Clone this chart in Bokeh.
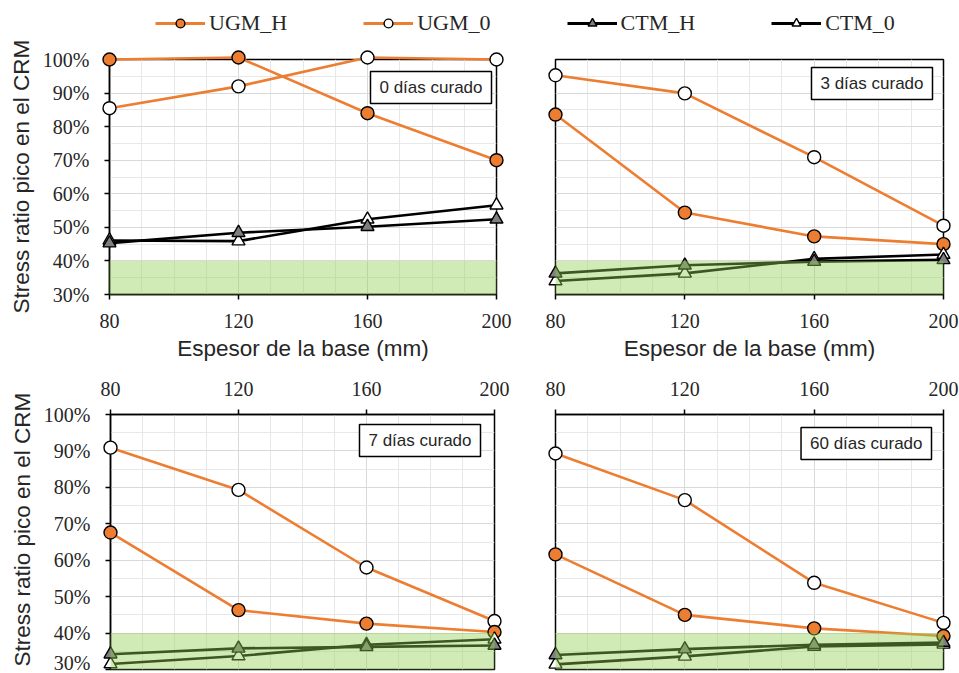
from bokeh.plotting import figure
from bokeh.models import (ColumnDataSource, FixedTicker, PrintfTickFormatter, Label,
                          Legend, LegendItem, Range1d, Title)
from bokeh.layouts import column, row
from bokeh.embed import file_html
from bokeh.resources import INLINE

# ---------------- data ----------------
thickness = [80, 120, 160, 200]          # Espesor de la base (mm)
x_ticks = [80, 120, 160, 200]
x_minor = [90, 100, 110, 130, 140, 150, 170, 180, 190]
y_ticks = [30, 40, 50, 60, 70, 80, 90, 100]
y_minor = [35, 45, 55, 65, 75, 85, 95]
band_bottom = 30
band_top = 40

panel_titles = ["0 días curado", "3 días curado", "7 días curado", "60 días curado"]
series_names = ["UGM_H", "UGM_0", "CTM_H", "CTM_0"]
y_label = "Stress ratio pico en el CRM"
x_label = "Espesor de la base (mm)"

ugm_h_0d = [100.0, 100.6, 84.0, 70.0]
ugm_0_0d = [85.5, 92.0, 100.6, 100.0]
ctm_h_0d = [45.3, 48.4, 50.2, 52.4]
ctm_0_0d = [46.1, 45.9, 52.4, 56.6]

ugm_h_3d = [83.6, 54.4, 47.3, 45.0]
ugm_0_3d = [95.3, 89.9, 70.9, 50.5]
ctm_h_3d = [36.3, 38.7, 39.8, 40.3]
ctm_0_3d = [34.0, 36.3, 40.6, 41.9]

ugm_h_7d = [67.6, 46.3, 42.6, 40.3]
ugm_0_7d = [90.9, 79.3, 58.0, 43.3]
ctm_h_7d = [34.2, 35.8, 36.2, 36.6]
ctm_0_7d = [31.5, 33.7, 36.8, 38.3]

ugm_h_60d = [61.6, 45.0, 41.3, 39.2]
ugm_0_60d = [89.3, 76.5, 53.8, 42.8]
ctm_h_60d = [34.0, 35.6, 36.8, 37.4]
ctm_0_60d = [31.4, 33.6, 36.3, 36.9]

ORANGE = "#ED7D31"
GRAY = "#7F7F7F"
GREEN = "#92D050"
TXT = "#262626"
SERIF = "Liberation Serif"
SANS = "Liberation Sans"

styles = {
    "UGM_H": dict(line=ORANGE, marker="circle", fill=ORANGE, size=13),
    "UGM_0": dict(line=ORANGE, marker="circle", fill="white", size=13),
    "CTM_H": dict(line="black", marker="triangle", fill=GRAY, size=13),
    "CTM_0": dict(line="black", marker="triangle", fill="white", size=13),
}


def make_panel(width, height, borders, title, data, box_off, xaxis_loc, ylab_offset, show_xlabel):
    left, right, top, bottom = borders
    p = figure(width=width, height=height, output_backend="svg", toolbar_location=None,
               x_range=Range1d(80, 200), y_range=Range1d(30, 100),
               x_axis_location=xaxis_loc,
               min_border_left=left, min_border_right=right,
               min_border_top=top, min_border_bottom=bottom)
    p.background_fill_color = "white"
    p.border_fill_color = "white"
    p.outline_line_color = "black"
    p.outline_line_width = 1.5

    xt = FixedTicker(ticks=x_ticks, minor_ticks=x_minor)
    yt = FixedTicker(ticks=y_ticks, minor_ticks=y_minor)
    p.xaxis.ticker = xt
    p.yaxis.ticker = yt
    p.xgrid.ticker = xt
    p.ygrid.ticker = yt
    for g in (p.xgrid, p.ygrid):
        g.grid_line_color = "#D9D9D9"
        g.grid_line_width = 1
        g.minor_grid_line_color = "#E8E8E8"
        g.minor_grid_line_width = 1

    for ax in (p.xaxis, p.yaxis):
        ax.axis_line_color = "black"
        ax.axis_line_width = 1.5
        ax.major_tick_line_color = "black"
        ax.major_tick_line_width = 1.5
        ax.major_tick_out = 5
        ax.major_tick_in = 0
        ax.minor_tick_line_color = None
        ax.major_label_text_font = SERIF
        ax.major_label_text_font_size = "20px"
        ax.major_label_text_color = TXT
        ax.axis_label_text_font = SANS
        ax.axis_label_text_font_size = "22.5px"
        ax.axis_label_text_font_style = "normal"
        ax.axis_label_text_color = TXT

    p.xaxis.major_label_standoff = 14
    p.yaxis.formatter = PrintfTickFormatter(format="%d%%")
    p.yaxis.major_label_standoff = 15
    if ylab_offset is None:
        p.yaxis.visible = False
    else:
        p.add_layout(Title(text=y_label, align="left", offset=ylab_offset, standoff=12,
                           text_font=SANS, text_font_size="22.5px", text_font_style="normal",
                           text_color=TXT), "left")
    if show_xlabel:
        p.xaxis.axis_label = x_label
        p.xaxis.axis_label_standoff = 5

    ugm_h, ugm_0, ctm_h, ctm_0 = data
    for name, ys in (("UGM_0", ugm_0), ("UGM_H", ugm_h), ("CTM_0", ctm_0), ("CTM_H", ctm_h)):
        st = styles[name]
        src = ColumnDataSource(data=dict(x=thickness, y=ys))
        p.line("x", "y", source=src, line_color=st["line"], line_width=2.6, level="overlay")
        p.scatter("x", "y", source=src, marker=st["marker"], size=st["size"],
                  fill_color=st["fill"], line_color="black", line_width=1.4, level="overlay")

    p.quad(left=[thickness[0]], right=[thickness[-1]], bottom=[band_bottom], top=[band_top],
           fill_color=GREEN, fill_alpha=0.42, line_color=None, level="overlay")

    lab = Label(x=200, y=100, x_offset=-box_off[0], y_offset=-box_off[1], text=title,
                text_align="right", text_baseline="top",
                text_font=SANS, text_font_size="17px", text_color=TXT,
                border_line_color="black", border_line_width=1.5,
                background_fill_color="white",
                padding=dict(left=9, right=9, top=6, bottom=7), level="overlay")
    p.add_layout(lab)
    return p


p1 = make_panel(520, 328, (107, 24, 19, 74), panel_titles[0],
                (ugm_h_0d, ugm_0_0d, ctm_h_0d, ctm_0_0d), (5, 12), "below", -19, True)
p2 = make_panel(439, 328, (35, 16, 19, 74), panel_titles[1],
                (ugm_h_3d, ugm_0_3d, ctm_h_3d, ctm_0_3d), (11, 8), "below", None, True)
p3 = make_panel(520, 305, (110, 26, 46, 4), panel_titles[2],
                (ugm_h_7d, ugm_0_7d, ctm_h_7d, ctm_0_7d), (14, 10), "above", 3, False)
p4 = make_panel(439, 305, (35, 16, 43, 3), panel_titles[3],
                (ugm_h_60d, ugm_0_60d, ctm_h_60d, ctm_0_60d), (12, 13), "above", None, False)

# ---------------- legend strip ----------------
leg = figure(width=959, height=40, output_backend="svg", toolbar_location=None,
             x_range=Range1d(0, 1), y_range=Range1d(0, 1), min_border=0)
leg.axis.visible = False
leg.grid.visible = False
leg.outline_line_color = None
leg.background_fill_color = "white"
leg.border_fill_color = "white"

legend_src = {"UGM_H": ugm_h_0d, "UGM_0": ugm_0_0d, "CTM_H": ctm_h_0d, "CTM_0": ctm_0_0d}
items = []
for name in series_names:
    st = styles[name]
    # data lies outside this strip's ranges: only the legend glyphs are seen
    src = ColumnDataSource(data=dict(x=thickness, y=legend_src[name]))
    rl = leg.line("x", "y", source=src, line_color=st["line"], line_width=2.8)
    rm = leg.scatter("x", "y", source=src, marker=st["marker"], size=st["size"],
                     fill_color=st["fill"], line_color="black", line_width=1.4)
    items.append(LegendItem(label=name, renderers=[rl, rm]))

legend = Legend(items=items, orientation="horizontal", location=(155, 4),
                glyph_width=50, glyph_height=22, label_standoff=4, spacing=76,
                padding=0, margin=0, border_line_color=None, background_fill_alpha=0,
                label_text_font=SERIF, label_text_font_size="22px", label_text_color=TXT,
                label_height=22)
leg.add_layout(legend, "center")

layout = column(leg, row(p1, p2), row(p3, p4))

open("out.html", "w").write(file_html(layout, INLINE))
